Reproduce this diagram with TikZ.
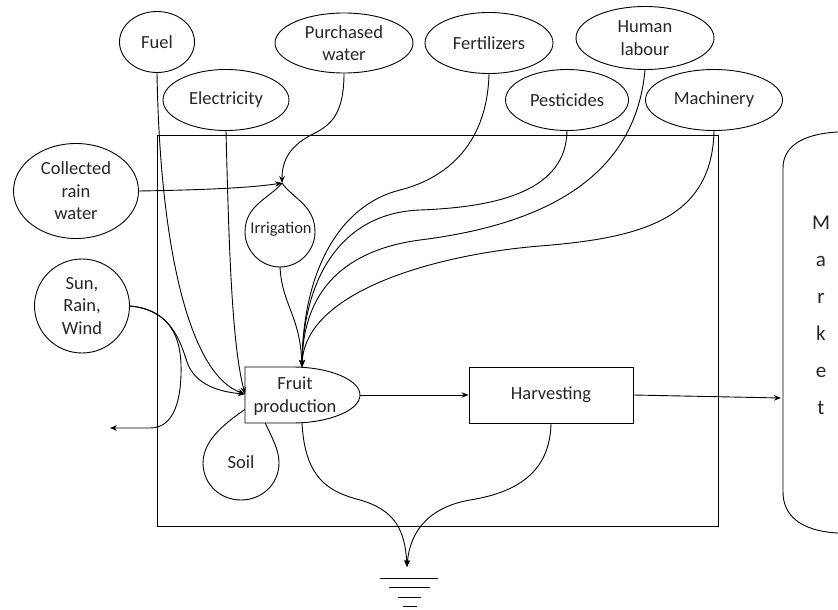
\documentclass[tikz,border=0pt]{standalone}
\usepackage{fontspec}
\setmainfont{Carlito}
\usetikzlibrary{shapes.geometric,arrows.meta}
\begin{document}
\begin{tikzpicture}[x=1pt,y=-1pt,
  line width=0.9pt,
  txt/.style={font=\fontsize{18.5}{22.5}\selectfont, align=center, text=black!85, inner sep=0pt},
  oval/.style={ellipse, draw, txt},
  arr/.style={-{Stealth[length=7pt,width=5.5pt]}},
  mkt/.style={font=\fontsize{21}{37}\selectfont, align=center, text=black!85, inner sep=0pt}
]
\useasboundingbox (0,0) rectangle (838,610);

% main system box
\draw (157,135) rectangle (718,526);

% market
\draw (838,132) .. controls (800,134) and (783,148) .. (783,168) -- (783,492)
      .. controls (783,515) and (800,531) .. (838,533);
\node[mkt] (market) at (821,315) {M\\a\\r\\k\\e\\t};
\coordinate (mktin) at (781,398);

% input ovals
\node[oval, minimum width=75pt, minimum height=61pt] (fuel) at (157,42) {Fuel};
\node[oval, minimum width=138pt, minimum height=60pt] (pwater) at (344,43) {Purchased\\water};
\node[oval, minimum width=126pt, minimum height=61pt] (elec) at (226,100) {Electricity};
\node[oval, minimum width=125pt, minimum height=95pt] (crain) at (76,191) {Collected\\rain\\water};
\node[oval, minimum width=95pt, minimum height=94pt] (sun) at (82,306) {Sun,\\Rain,\\Wind};
\node[oval, minimum width=128pt, minimum height=61pt] (fert) at (489,43) {Fertilizers};
\node[oval, minimum width=138pt, minimum height=63pt] (human) at (645,38) {Human\\labour};
\node[oval, minimum width=123pt, minimum height=61pt] (pest) at (567,100) {Pesticides};
\node[oval, minimum width=137pt, minimum height=61pt] (mach) at (714,100) {Machinery};

% soil teardrop
\draw (256,402) .. controls (232,418) and (203,437) .. (203,463)
      .. controls (203,484) and (220,500) .. (241,500)
      .. controls (262,500) and (279,484) .. (279,463)
      .. controls (279,446) and (268,432) .. (256,402);
\node[txt] (soil) at (241,462) {Soil};

% fruit production
\draw[fill=white] (245,367) -- (292,367) .. controls (330,367) and (360,380) .. (360,395)
      .. controls (360,410) and (330,423) .. (292,423) -- (245,423) -- cycle;
\node[txt] (fruit) at (295,396) {Fruit\\production};
\coordinate (fruitL) at (245,394);
\coordinate (fruitT) at (302,367);
\coordinate (fruitB) at (302,423);
\coordinate (fruitR) at (360,395);

% irrigation teardrop
\coordinate (irrtip) at (282,183);
\coordinate (irrbot) at (280,267);
\draw (irrtip) .. controls (270,198) and (245,205) .. (245,232)
      .. controls (245,251) and (261,267) .. (irrbot)
      .. controls (299,267) and (315,251) .. (315,232)
      .. controls (315,205) and (292,198) .. (irrtip);
\node[txt, font=\fontsize{16.5}{20}\selectfont] (irr) at (281,229) {Irrigation};

% harvesting
\node[draw, txt, minimum width=164pt, minimum height=56pt] (harv) at (551,395) {Harvesting};

% ground
\coordinate (gnd) at (407,567);
\draw (380,578) -- (438,578);
\draw (389,587) -- (430,587);
\draw (398,597) -- (421,597);
\draw (403,606) -- (417,606);

% connectors into fruit production (left)
\draw[arr] (fuel.south) .. controls (160,250) and (190,375) .. (fruitL);
\draw[arr] (elec.south) .. controls (229,250) and (232,345) .. (fruitL);
\draw[arr] (sun.east) .. controls (170,309) and (180,340) .. (187,362)
      .. controls (195,385) and (220,392) .. (fruitL);
% outflow loop from sun
\coordinate (sunout) at (110,428);
\draw[arr] (sun.east) .. controls (176,311) and (182,345) .. (181,375)
      .. controls (180,405) and (172,428) .. (150,428) -- (sunout);

% water into irrigation
\draw[arr] (crain.east) .. controls (200,190) and (250,188) .. (irrtip);
\draw[arr] (pwater.south) .. controls (344,115) and (330,125) .. (315,133)
      .. controls (290,145) and (282,160) .. (irrtip);

% bundle into fruit production (top)
\draw[arr] (irrbot) .. controls (282,305) and (300,315) .. (fruitT);
\draw[arr] (fert.south) .. controls (487,150) and (440,180) .. (400,190)
      .. controls (340,205) and (303,270) .. (fruitT);
\draw[arr] (pest.south) .. controls (566,190) and (500,207) .. (420,210)
      .. controls (340,213) and (303,280) .. (fruitT);
\draw[arr] (human.south) .. controls (635,180) and (540,225) .. (420,240)
      .. controls (345,250) and (303,290) .. (fruitT);
\draw[arr] (mach.south) .. controls (712,220) and (640,238) .. (540,246)
      .. controls (440,254) and (305,290) .. (fruitT);

% flow to harvesting and market
\draw[arr] (fruitR) -- (harv.west);
\draw[arr] (harv.east) -- (mktin);

% losses to ground
\draw[arr] (fruitB) .. controls (305,480) and (330,492) .. (360,500)
      .. controls (395,510) and (405,530) .. (gnd);
\draw[arr] (harv.south) .. controls (550,470) and (520,492) .. (470,500)
      .. controls (430,507) and (410,530) .. (gnd);
\end{tikzpicture}
\end{document}
